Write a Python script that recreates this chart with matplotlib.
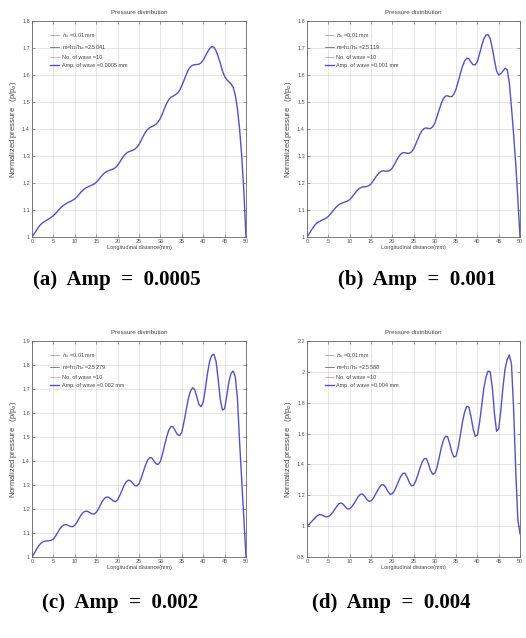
import matplotlib
matplotlib.use("Agg")
import matplotlib.pyplot as plt
from matplotlib.lines import Line2D

# x grid used by all four curves (mm)
x_mm = [i * 0.5 for i in range(101)]

# (a) Amp = 0.0005
p_a = [1.0, 1.012, 1.024, 1.036, 1.046, 1.053, 1.058, 1.063, 1.068, 1.073,
       1.079, 1.087, 1.096, 1.105, 1.113, 1.119, 1.124, 1.128, 1.132, 1.136,
       1.141, 1.149, 1.158, 1.167, 1.175, 1.181, 1.185, 1.189, 1.192, 1.196,
       1.202, 1.211, 1.221, 1.23, 1.238, 1.243, 1.246, 1.249, 1.252, 1.257,
       1.265, 1.277, 1.29, 1.301, 1.31, 1.315, 1.318, 1.321, 1.325, 1.332,
       1.343, 1.358, 1.374, 1.388, 1.398, 1.405, 1.409, 1.413, 1.418, 1.427,
       1.44, 1.458, 1.478, 1.496, 1.51, 1.518, 1.522, 1.527, 1.533, 1.544,
       1.56, 1.58, 1.6, 1.618, 1.63, 1.636, 1.638, 1.639, 1.64, 1.645,
       1.655, 1.67, 1.685, 1.698, 1.705, 1.703, 1.69, 1.668, 1.643, 1.615,
       1.595, 1.583, 1.575, 1.567, 1.555, 1.525, 1.475, 1.40, 1.30, 1.17,
       1.0]

# (b) Amp = 0.001
p_b = [1.0, 1.012, 1.025, 1.037, 1.047, 1.054, 1.058, 1.062, 1.066, 1.07,
       1.076, 1.085, 1.095, 1.105, 1.113, 1.12, 1.124, 1.127, 1.13, 1.133,
       1.138, 1.147, 1.157, 1.167, 1.176, 1.182, 1.185, 1.186, 1.187, 1.19,
       1.196, 1.207, 1.219, 1.23, 1.239, 1.244, 1.245, 1.244, 1.244, 1.247,
       1.255, 1.268, 1.283, 1.297, 1.307, 1.312, 1.312, 1.31, 1.31, 1.315,
       1.325, 1.343, 1.362, 1.38, 1.394, 1.402, 1.404, 1.402, 1.402, 1.408,
       1.422, 1.445, 1.47, 1.494, 1.512, 1.522, 1.523, 1.52, 1.52, 1.53,
       1.548, 1.576, 1.605, 1.632, 1.652, 1.662, 1.66, 1.648, 1.638, 1.638,
       1.65, 1.678, 1.708, 1.733, 1.748, 1.75, 1.735, 1.70, 1.655, 1.615,
       1.60, 1.605, 1.615, 1.625, 1.62, 1.57, 1.48, 1.38, 1.27, 1.14,
       1.0]

# (c) Amp = 0.002
p_c = [1.0, 1.015, 1.03, 1.045, 1.056, 1.063, 1.066, 1.067, 1.068, 1.07,
       1.075, 1.087, 1.102, 1.117, 1.128, 1.134, 1.135, 1.131, 1.127, 1.126,
       1.132, 1.145, 1.161, 1.176, 1.186, 1.191, 1.19, 1.185, 1.18, 1.179,
       1.186, 1.20, 1.218, 1.234, 1.245, 1.25, 1.248, 1.241, 1.233, 1.231,
       1.238, 1.256, 1.277, 1.298, 1.313, 1.32, 1.318, 1.308, 1.298, 1.296,
       1.305, 1.328, 1.355, 1.382, 1.403, 1.414, 1.413, 1.40, 1.388, 1.386,
       1.398, 1.43, 1.467, 1.503, 1.53, 1.544, 1.542, 1.525, 1.51, 1.506,
       1.52, 1.562, 1.61, 1.658, 1.69, 1.705, 1.698, 1.668, 1.636, 1.626,
       1.645, 1.70, 1.765, 1.815, 1.84, 1.845, 1.815, 1.74, 1.655, 1.612,
       1.618, 1.67, 1.73, 1.765, 1.775, 1.75, 1.66, 1.48, 1.32, 1.16,
       1.0]

# (d) Amp = 0.004
p_d = [1.0, 1.012, 1.027, 1.042, 1.057, 1.069, 1.075, 1.072, 1.065, 1.06,
       1.062, 1.072, 1.088, 1.108, 1.128, 1.145, 1.15, 1.142, 1.125, 1.111,
       1.113, 1.125, 1.145, 1.168, 1.19, 1.206, 1.209, 1.195, 1.175, 1.161,
       1.163, 1.178, 1.202, 1.228, 1.252, 1.268, 1.268, 1.25, 1.225, 1.206,
       1.21, 1.228, 1.258, 1.292, 1.322, 1.342, 1.343, 1.318, 1.285, 1.261,
       1.265, 1.29, 1.33, 1.375, 1.413, 1.437, 1.438, 1.405, 1.36, 1.336,
       1.342, 1.38, 1.44, 1.505, 1.555, 1.582, 1.58, 1.535, 1.48, 1.447,
       1.455, 1.51, 1.59, 1.675, 1.74, 1.776, 1.772, 1.71, 1.63, 1.582,
       1.59, 1.67, 1.78, 1.89, 1.965, 2.005, 2.0, 1.90, 1.73, 1.615,
       1.63, 1.75, 1.90, 2.02, 2.08, 2.11, 2.05, 1.76, 1.36, 1.04,
       0.95]

curves = [p_a, p_b, p_c, p_d]
ratio_m = ["2.5041", "2.5119", "2.5279", "2.5588"]
amp_txt = ["0.0005", "0.001", "0.002", "0.004"]
captions = ["(a)  Amp  =  0.0005", "(b)  Amp  =  0.001",
            "(c)  Amp  =  0.002", "(d)  Amp  =  0.004"]
ylims = [(1, 1.8), (1, 1.8), (1, 1.9), (0.8, 2.2)]
ysteps = [0.1, 0.1, 0.1, 0.2]

W, H = 526, 638
fig = plt.figure(figsize=(W / 100, H / 100), dpi=100, facecolor="white")
plt.rcParams['font.family'] = ['Liberation Sans', 'DejaVu Sans']

# axes boxes in pixels: left, top, right, bottom
boxes = [(32, 21, 246, 237), (307, 21, 520, 237),
         (32, 341, 246, 557), (307, 341, 520, 557)]
cap_pos = [(117, 280), (417, 280), (120, 603), (391, 603)]

blue = '#5252c4'
fs = 4

def fmt(v):
    s = ("%.1f" % v).rstrip('0').rstrip('.')
    return s

for i in range(4):
    l, t, r, b = boxes[i]
    ax = fig.add_axes([l / W, (H - b) / H, (r - l) / W, (b - t) / H])
    ax.plot(x_mm, curves[i], color=blue, lw=1.0)
    lo, hi = ylims[i]
    n = int(round((hi - lo) / ysteps[i]))
    yt = [lo + k * ysteps[i] for k in range(n + 1)]
    ax.set_ylim(lo, hi)
    ax.set_xlim(0, 50)
    ax.set_xticks(range(0, 51, 5))
    ax.set_yticks(yt)
    ax.set_yticklabels([fmt(v) for v in yt])
    ax.grid(True, color='#dcdcdc', lw=0.5)
    ax.tick_params(direction='in', length=2, width=0.4, labelsize=fs,
                   colors='#555555', top=True, right=True, pad=1.5)
    for sp in ax.spines.values():
        sp.set_color('#666666')
        sp.set_linewidth(0.6)
    ax.set_title("Pressure distribution", fontsize=4.5, color='#444444', pad=5)
    ax.set_xlabel("Longitudinal distance(mm)", fontsize=fs, color='#444444', labelpad=1)
    ax.set_ylabel("Normalized pressure   (p/p$_o$)", fontsize=5.5, color='#444444', labelpad=2)

    handles = [Line2D([], [], color='#8c8cb4', lw=0.5),
               Line2D([], [], color='#505050', lw=0.5),
               Line2D([], [], color='#d89090', lw=0.5),
               Line2D([], [], color=blue, lw=1.0)]
    labels = ["$h_o$ =0.01 mm",
              "m=h$_1$/h$_o$ =" + ratio_m[i],
              "No. of wave =10",
              "Amp. of wave =" + amp_txt[i] + " mm"]
    ax.legend(handles, labels, loc='upper left', bbox_to_anchor=(0.06, 0.975),
              frameon=False, fontsize=fs, labelcolor='#444444',
              handlelength=1.7, handletextpad=0.4, labelspacing=0.55)

    cx, cy = cap_pos[i]
    fig.text(cx / W, 1 - cy / H, captions[i], ha='center', va='center',
             fontsize=15, fontweight='bold', family='Liberation Serif')

fig.savefig("out.png", dpi=100, facecolor="white")
